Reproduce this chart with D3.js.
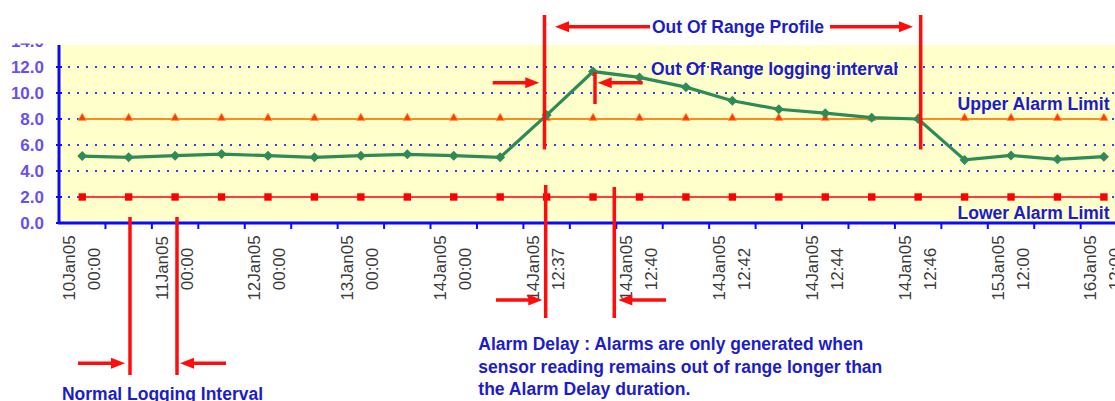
<!DOCTYPE html>
<html><head><meta charset="utf-8">
<script src="https://cdn.jsdelivr.net/npm/d3@7"></script>
<style>html,body{margin:0;padding:0;background:#fff;}svg{display:block;}</style>
</head><body>
<svg id="c" width="1115" height="401"></svg>
<script>
// ---------- data ----------
const tickLabels = [
  ["10Jan05","00:00"], null, ["11Jan05","00:00"], null, ["12Jan05","00:00"], null,
  ["13Jan05","00:00"], null, ["14Jan05","00:00"], null, ["14Jan05","12:37"], null,
  ["14Jan05","12:40"], null, ["14Jan05","12:42"], null, ["14Jan05","12:44"], null,
  ["14Jan05","12:46"], null, ["15Jan05","12:00"], null, ["16Jan05","12:00"]
];
const sensorValues = [5.15, 5.05, 5.18, 5.3, 5.18, 5.05, 5.18, 5.28, 5.18, 5.05, 8.3, 11.65,
  11.2, 10.45, 9.4, 8.75, 8.45, 8.1, 8.0, 4.85, 5.2, 4.9, 5.1];
const upperLimit = [8,8,8,8,8,8,8,8,8,8,8,8,8,8,8,8,8,8,8,8,8,8,8];
const lowerLimit = [2,2,2,2,2,2,2,2,2,2,2,2,2,2,2,2,2,2,2,2,2,2,2];
const yTicks = [0, 2, 4, 6, 8, 10, 12, 14];

// ---------- setup ----------
const svg = d3.select("#c");
const X0 = 59, BAND = 46.44, TOP = 45, BOT = 223;
const idx = tickLabels.map((d, i) => i);
const x = d3.scaleBand().domain(idx).range([X0, X0 + BAND * idx.length]).padding(0);
const cx = i => x(i) + x.bandwidth() / 2;
const y = d3.scaleLinear().domain([0, 14]).range([BOT, BOT - 14 * 13]);

const blueAxis = "#0a0aff", textBlue = "#1c1cc8", red = "#ff0d0d";

svg.append("defs").append("clipPath").attr("id", "clip")
  .append("rect").attr("x", 0).attr("y", TOP - 1.5).attr("width", 1115).attr("height", 401);

// plot background
svg.append("rect").attr("x", X0).attr("y", TOP).attr("width", 1115 - X0).attr("height", BOT - TOP)
  .attr("fill", "#ffffcc");

// gridlines
svg.append("g").selectAll("line").data(yTicks.filter(t => t > 0 && t < 14)).join("line")
  .attr("x1", X0 + 2).attr("x2", 1115).attr("y1", d => y(d)).attr("y2", d => y(d))
  .attr("stroke", "#3a3af5").attr("stroke-width", 2).attr("stroke-dasharray", "2,7")
  .attr("stroke-dashoffset", -7);

// y axis
const yAxis = svg.append("g").attr("clip-path", "url(#clip)");
yAxis.append("line").attr("x1", X0).attr("x2", X0).attr("y1", TOP).attr("y2", BOT + 1)
  .attr("stroke", blueAxis).attr("stroke-width", 3);
yAxis.selectAll("line.t").data(yTicks.filter(t => t < 14)).join("line").attr("class", "t")
  .attr("x1", X0 - 3).attr("x2", X0 + 3).attr("y1", d => y(d)).attr("y2", d => y(d))
  .attr("stroke", blueAxis).attr("stroke-width", 2);
yAxis.selectAll("text").data(yTicks).join("text")
  .attr("x", 44).attr("y", d => y(d) + 6).attr("text-anchor", "end")
  .attr("font-family", "Liberation Sans, Arial, sans-serif").attr("font-size", 17)
  .attr("font-weight", "bold").attr("fill", "#6a4ef0").text(d => d.toFixed(1));

// x axis
svg.append("line").attr("x1", X0 - 1).attr("x2", 1115).attr("y1", BOT).attr("y2", BOT)
  .attr("stroke", blueAxis).attr("stroke-width", 3);
svg.append("g").selectAll("line").data(idx).join("line")
  .attr("x1", d => x(d) + x.bandwidth()).attr("x2", d => x(d) + x.bandwidth())
  .attr("y1", BOT).attr("y2", BOT + 6).attr("stroke", blueAxis).attr("stroke-width", 2);
const lab = svg.append("g").selectAll("g").data(idx.filter(i => tickLabels[i])).join("g")
  .attr("font-family", "Liberation Sans, Arial, sans-serif").attr("font-size", 17).attr("fill", "#3a3a3a");
lab.append("text").attr("transform", d => `translate(${cx(d) - 13},268) rotate(-90)`)
  .attr("text-anchor", "middle").attr("dominant-baseline", "central").text(d => tickLabels[d][0]);
lab.append("text").attr("transform", d => `translate(${cx(d) + 12},269) rotate(-90)`)
  .attr("text-anchor", "middle").attr("dominant-baseline", "central").text(d => tickLabels[d][1]);

// series
const line = d3.line().x((d, i) => cx(i)).y(d => y(d));
svg.append("path").datum(lowerLimit).attr("d", line).attr("fill", "none")
  .attr("stroke", "#ff3c3c").attr("stroke-width", 2);
svg.append("g").selectAll("rect").data(lowerLimit).join("rect")
  .attr("x", (d, i) => cx(i) - 3.7).attr("y", d => y(d) - 3.7).attr("width", 7.4).attr("height", 7.4)
  .attr("fill", "#ff0000");
svg.append("path").datum(upperLimit).attr("d", line).attr("fill", "none")
  .attr("stroke", "#ff8c1a").attr("stroke-width", 2);
svg.append("g").selectAll("path").data(upperLimit).join("path")
  .attr("d", d3.symbol(d3.symbolTriangle, 30))
  .attr("transform", (d, i) => `translate(${cx(i)},${y(d) - 1})`)
  .attr("fill", "#ff3a00").attr("stroke", "#ff9a30").attr("stroke-width", 0.8);
svg.append("path").datum(sensorValues).attr("d", line).attr("fill", "none")
  .attr("stroke", "#2e8b57").attr("stroke-width", 3.2);
svg.append("g").selectAll("path").data(sensorValues).join("path")
  .attr("d", "M0,-5L5,0L0,5L-5,0Z")
  .attr("transform", (d, i) => `translate(${cx(i)},${y(d)})`)
  .attr("fill", "#2e8b57");

// ---------- annotations ----------
const vlines = [
  [544.5, 15, 149.5], [920.7, 15, 149.5], [595, 72, 104],
  [545.7, 185, 318], [614.3, 187, 318], [130, 217, 375], [177, 217, 375]
];
svg.append("g").selectAll("line").data(vlines).join("line")
  .attr("x1", d => d[0]).attr("x2", d => d[0]).attr("y1", d => d[1]).attr("y2", d => d[2])
  .attr("stroke", red).attr("stroke-width", 3.5);

// arrows: [tailX, tipX, y]
const arrows = [
  [650, 555, 26.7], [830, 913, 26.7], [492.7, 539.3, 82.7], [642.7, 597.7, 82.7],
  [496, 542.3, 300], [666, 618.3, 300], [78, 125, 363.3], [226, 180, 363.3]
];
const ag = svg.append("g");
arrows.forEach(([t, p, yy]) => {
  const dir = p > t ? 1 : -1, hl = 14, hw = 5.5;
  ag.append("line").attr("x1", t).attr("x2", p - dir * hl + dir * 1).attr("y1", yy).attr("y2", yy)
    .attr("stroke", red).attr("stroke-width", 3.5);
  ag.append("path").attr("d", `M${p},${yy} L${p - dir * hl},${yy - hw} L${p - dir * hl},${yy + hw} Z`)
    .attr("fill", red);
});

// texts: [text, x, baseline, width]
const notes = [
  ["Out Of Range Profile", 652, 33, 172],
  ["Out Of Range logging interval", 651, 74.5, 247],
  ["Upper Alarm Limit", 957.5, 109.5, 152],
  ["Lower Alarm Limit", 957.5, 218.5, 152],
  ["Alarm Delay :  Alarms are only generated when", 478.3, 350, 385],
  ["sensor reading remains out of range longer than", 478.3, 372.5, 404],
  ["the Alarm Delay duration.", 478.3, 395, 212],
  ["Normal Logging Interval", 62, 399.5, 201]
];
svg.append("g").selectAll("text").data(notes).join("text")
  .attr("x", d => d[1]).attr("y", d => d[2])
  .attr("font-family", "Liberation Sans, Arial, sans-serif").attr("font-size", 17.5)
  .attr("font-weight", "bold").attr("fill", textBlue)
  .attr("textLength", d => d[3]).attr("lengthAdjust", "spacingAndGlyphs")
  .text(d => d[0]);
</script>
</body></html>
